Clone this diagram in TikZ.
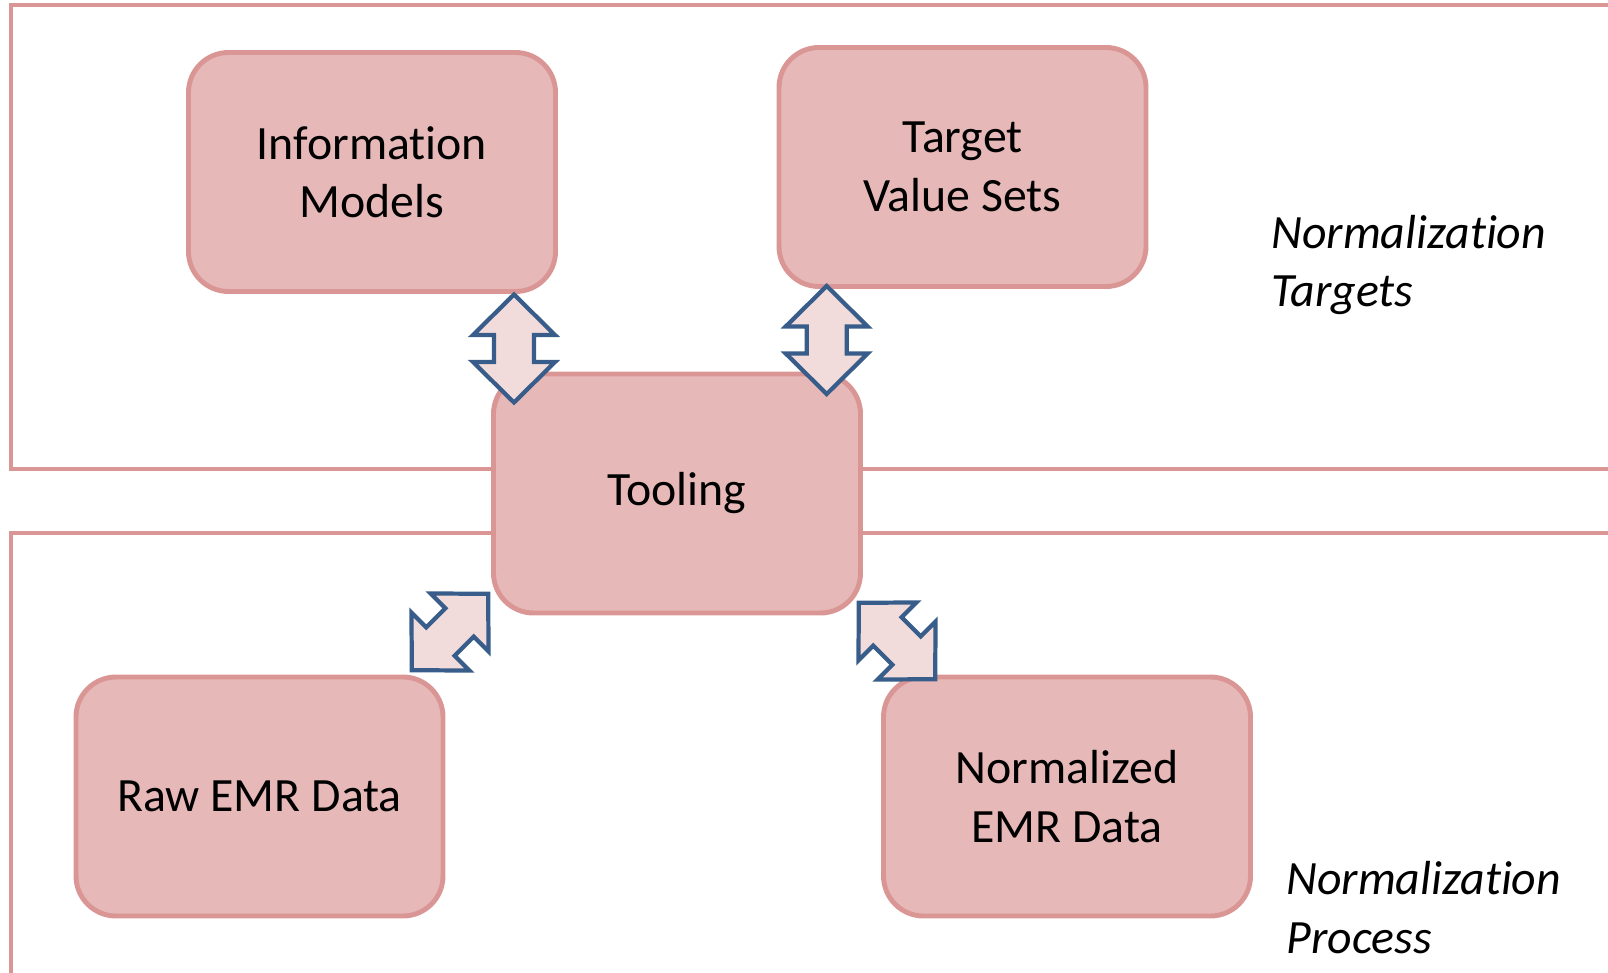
\documentclass[tikz,border=0pt]{standalone}
\usepackage{fontspec}
\setmainfont[Ligatures=NoCommon]{Carlito}
\definecolor{boxfill}{HTML}{E6B8B7}
\definecolor{boxline}{HTML}{D99694}
\definecolor{arrowfill}{HTML}{F2DCDB}
\definecolor{arrowline}{HTML}{385D8A}

\begin{document}
\begin{tikzpicture}[
    box/.style={draw=boxline, fill=boxfill, line width=1.4pt, rounded corners=0.4cm,
      minimum width=3.67cm, minimum height=2.39cm, align=center,
      font=\fontsize{13.6}{16.6}\selectfont},
    frame/.style={draw=boxline, line width=1.4pt},
    note/.style={anchor=west, align=left, font=\fontsize{13.6}{16.6}\selectfont\itshape},
    dblarrow/.pic={
      \draw[arrowline, fill=arrowfill, line width=1.2pt, line join=miter]
        (-0.54,0) -- (-0.135,0.41) -- (-0.135,0.2) -- (0.135,0.2) -- (0.135,0.41)
        -- (0.54,0) -- (0.135,-0.41) -- (0.135,-0.2) -- (-0.135,-0.2)
        -- (-0.135,-0.41) -- cycle;
    }]
  \useasboundingbox (0,0) rectangle (16.08,9.72);

  % the two regions, open on the right
  \draw[frame] (0.11,9.67) rectangle (16.4,5.03);
  \draw[frame] (0.11,4.39) rectangle (16.4,-0.3);

  \node[box] (info) at (3.72,8.0) {Information\\Models};
  \node[box] (target) at (9.625,8.05) {Target\\Value Sets};
  \node[box] (tool) at (6.77,4.785) {Tooling};
  \node[box] (raw) at (2.595,1.755) {Raw EMR Data};
  \node[box] (norm) at (10.67,1.755) {Normalized\\EMR Data};

  \node[note] (targets) at (12.59,7.07) {Normalization\\Targets};
  \node[note] (process) at (12.74,0.645) {Normalization\\Process};

  % block arrows between tooling and the other boxes
  \foreach \x/\y/\a in {5.14/6.235/90, 8.267/6.32/90, 4.50/3.40/45, 8.97/3.31/-45}
    \pic[rotate=\a] at (\x,\y) {dblarrow};
\end{tikzpicture}
\end{document}
